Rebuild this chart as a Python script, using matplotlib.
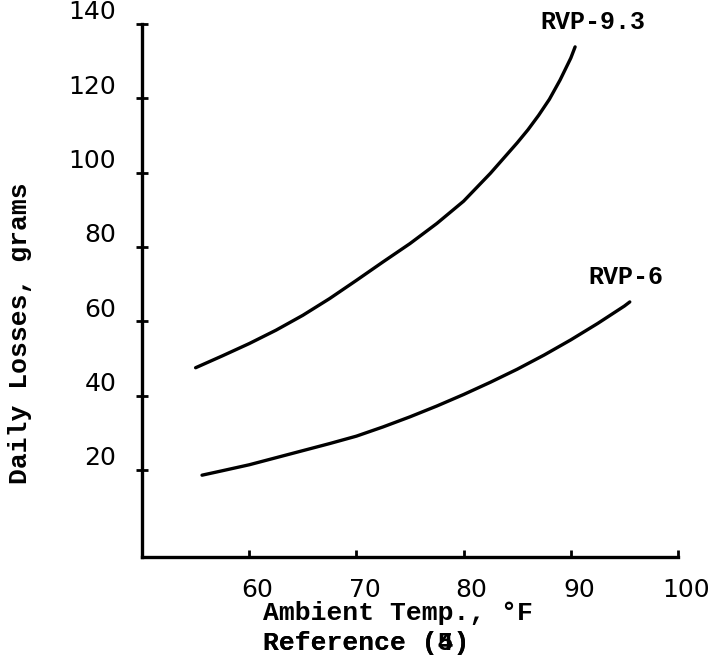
import matplotlib
matplotlib.use("Agg")
import matplotlib.pyplot as plt
import matplotlib.transforms as mtransforms

# RVP-9.3 curve
temp_93 = [55, 57.5, 60, 62.5, 65, 67.5, 70, 72.5, 75, 77.5, 80, 82.5, 85,
           86, 87, 88, 89, 90, 90.4]
loss_93 = [47.5, 50.7, 54.0, 57.6, 61.6, 66.1, 71.0, 76.0, 80.9, 86.3, 92.3,
           99.8, 108.0, 111.5, 115.4, 119.7, 124.9, 130.8, 133.8]

# RVP-6 curve
temp_6 = [55.6, 57.5, 60, 62.5, 65, 67.5, 70, 72.5, 75, 77.5, 80, 82.5, 85,
          87.5, 90, 92.5, 95, 95.5]
loss_6 = [18.6, 19.8, 21.4, 23.3, 25.2, 27.1, 29.1, 31.6, 34.3, 37.2, 40.3,
          43.6, 47.1, 50.9, 55.0, 59.4, 64.1, 65.2]

xticks = [60, 70, 80, 90, 100]
yticks = [20, 40, 60, 80, 100, 120, 140]

mono = "Liberation Mono"
digits = "DejaVu Sans"

fig = plt.figure(figsize=(7.19, 6.68), dpi=100)
ax = fig.add_axes([0.1975, 0.1662, 0.7455, 0.8009])

ax.plot(temp_93, loss_93, color="black", lw=2.4, solid_capstyle="round")
ax.plot(temp_6, loss_6, color="black", lw=2.4, solid_capstyle="round")

ax.set_xlim(50, 100)
ax.set_ylim(-3.4, 140.5)

for s in ["top", "right"]:
    ax.spines[s].set_visible(False)
for s in ["left", "bottom"]:
    ax.spines[s].set_linewidth(2.4)
ax.spines["left"].set_bounds(-3.4, 140)

ax.set_xticks(xticks)
ax.set_yticks(yticks)
ax.set_xticklabels([str(v) for v in xticks], fontsize=18, family=digits)
ax.set_yticklabels([str(v) for v in yticks], fontsize=18, family=digits)
ax.tick_params(axis="x", direction="in", length=5, width=2, pad=15)
ax.tick_params(axis="y", direction="inout", length=9, width=2, pad=14)

# hand-lettered labels sit a little above / right of their ticks
up = mtransforms.ScaledTranslation(0, 14 / 100, fig.dpi_scale_trans)
for lab in ax.get_yticklabels():
    lab.set_transform(lab.get_transform() + up)
right = mtransforms.ScaledTranslation(8 / 100, 0, fig.dpi_scale_trans)
for lab in ax.get_xticklabels():
    lab.set_transform(lab.get_transform() + right)

ax.text(92.07, 140.5, "RVP-9.3", fontsize=18, family=mono, weight="bold",
        ha="center", va="center", clip_on=False)
ax.text(95.15, 71.9, "RVP-6", fontsize=18, family=mono, weight="bold",
        ha="center", va="center", clip_on=False)

fig.text(0.5535, 0.0823, "Ambient Temp., \u00b0F", fontsize=19, family=mono,
         weight="bold", ha="center", va="center")
# the scan has the 4 typed over with a 5
fig.text(0.509, 0.0374, "Reference (4)", fontsize=19, family=mono,
         weight="bold", ha="center", va="center")
fig.text(0.509, 0.0374, "Reference (5)", fontsize=19, family=mono,
         weight="bold", ha="center", va="center")
fig.text(0.0278, 0.5015, "Daily Losses, grams", fontsize=19, family=mono,
         weight="bold", ha="center", va="center", rotation=90)

fig.savefig("out.png", dpi=100)
